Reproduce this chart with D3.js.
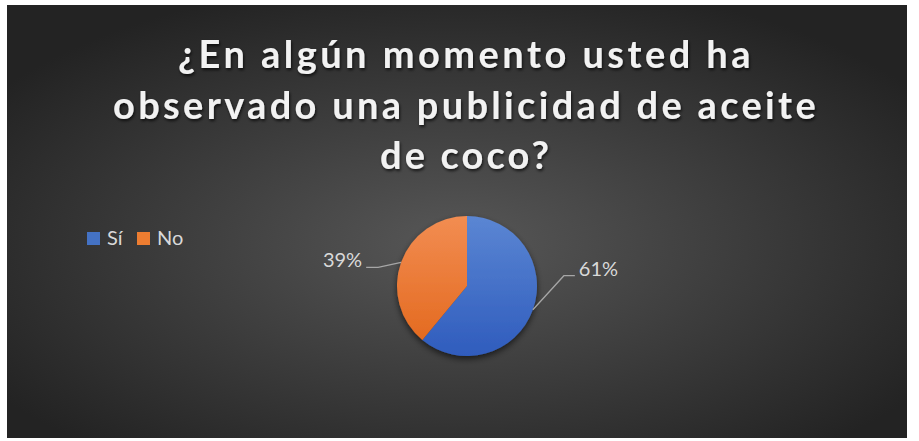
<!DOCTYPE html>
<html>
<head>
<meta charset="utf-8">
<script src="https://cdn.jsdelivr.net/npm/d3@7/dist/d3.min.js"></script>
<style>
  html, body { margin: 0; padding: 0; background: #fff; }
  svg { display: block; }
</style>
</head>
<body>
<div id="chart"></div>
<script>
// data
const categories = ["Sí", "No"];
const values = [61, 39];
const pctLabels = ["61%", "39%"];
const titleLines = ["¿En algún momento usted ha", "observado una publicidad de aceite", "de coco?"];

const width = 919, height = 441;
const box = { x: 7, y: 5, w: 900, h: 433 };

const svg = d3.select("#chart").append("svg")
  .attr("width", width)
  .attr("height", height);

const defs = svg.append("defs");

// fondo radial
const bg = defs.append("radialGradient")
  .attr("id", "bg")
  .attr("cx", "50%").attr("cy", "55%").attr("r", "62%");
bg.append("stop").attr("offset", "0%").attr("stop-color", "#575757");
bg.append("stop").attr("offset", "100%").attr("stop-color", "#232323");

const colors = [
  ["#5b86d3", "#2f5cbd"],
  ["#f28d52", "#e2661a"]
];
colors.forEach((c, i) => {
  const g = defs.append("linearGradient")
    .attr("id", "slice" + i)
    .attr("gradientUnits", "userSpaceOnUse")
    .attr("x1", 0).attr("y1", -70).attr("x2", 0).attr("y2", 70);
  g.append("stop").attr("offset", "0%").attr("stop-color", c[0]);
  g.append("stop").attr("offset", "100%").attr("stop-color", c[1]);
});

const shadow = defs.append("filter").attr("id", "pieShadow")
  .attr("x", "-30%").attr("y", "-30%").attr("width", "160%").attr("height", "160%");
shadow.append("feDropShadow").attr("dx", 0).attr("dy", 3).attr("stdDeviation", 3)
  .attr("flood-color", "#000").attr("flood-opacity", 0.6);

const tshadow = defs.append("filter").attr("id", "textShadow")
  .attr("x", "-10%").attr("y", "-30%").attr("width", "120%").attr("height", "160%");
tshadow.append("feDropShadow").attr("dx", 1).attr("dy", 2).attr("stdDeviation", 1.5)
  .attr("flood-color", "#000").attr("flood-opacity", 0.7);

svg.append("rect")
  .attr("x", box.x).attr("y", box.y)
  .attr("width", box.w).attr("height", box.h)
  .attr("fill", "url(#bg)");

// titulo
const titleWidths = [576, 706, 172];
const titleBase = [68, 119, 169];
const title = svg.append("g").attr("filter", "url(#textShadow)");
titleLines.forEach((line, i) => {
  const t = title.append("text")
    .attr("x", 466)
    .attr("y", titleBase[i])
    .attr("text-anchor", "middle")
    .attr("fill", "#f2f2f2")
    .style("font-family", "Lato, 'Open Sans', sans-serif")
    .style("font-weight", "bold")
    .style("font-size", "38px")
    .text(line);
  const natural = t.node().getComputedTextLength();
  const ls = (titleWidths[i] - natural) / line.length;
  t.style("letter-spacing", ls + "px");
});

// pie
const cx = 467, cy = 286, r = 70;
const pie = d3.pie().sort(null).value(d => d)(values);
const arc = d3.arc().innerRadius(0).outerRadius(r);

const g = svg.append("g").attr("transform", `translate(${cx},${cy})`);
g.append("g").attr("filter", "url(#pieShadow)")
  .selectAll("path")
  .data(pie)
  .join("path")
  .attr("d", arc)
  .attr("fill", (d, i) => `url(#slice${i})`);

// etiquetas con lineas guia
const leader = [
  { dx: 31, dy: -34, run: 11, side: 1 },
  { dx: -23, dy: 5, run: -12, side: -1 }
];
pie.forEach((d, i) => {
  const a = (d.startAngle + d.endAngle) / 2;
  const px = Math.sin(a) * r, py = -Math.cos(a) * r;
  const L = leader[i];
  const ex = px + L.dx, ey = py + L.dy;
  const pts = [[px, py], [ex, ey], [ex + L.run, ey]];
  g.append("path")
    .attr("d", d3.line()(pts))
    .attr("fill", "none")
    .attr("stroke", "#a6a6a6")
    .attr("stroke-width", 1.3);
  g.append("text")
    .attr("x", ex + L.run + L.side * 4)
    .attr("y", ey)
    .attr("text-anchor", L.side > 0 ? "start" : "end")
    .attr("fill", "#d9d9d9")
    .style("font-family", "Lato, 'Open Sans', sans-serif")
    .style("font-size", "20px")
    .text(pctLabels[i]);
});

// leyenda
const legColors = ["#4472c4", "#ed7d31"];
const legX = [87, 137];
const leg = svg.append("g");
categories.forEach((c, i) => {
  leg.append("rect")
    .attr("x", legX[i]).attr("y", 232)
    .attr("width", 13).attr("height", 13)
    .attr("fill", legColors[i]);
  leg.append("text")
    .attr("x", legX[i] + 20).attr("y", 245)
    .attr("fill", "#d9d9d9")
    .style("font-family", "Lato, 'Open Sans', sans-serif")
    .style("font-size", "20px")
    .text(c);
});
</script>
</body>
</html>
